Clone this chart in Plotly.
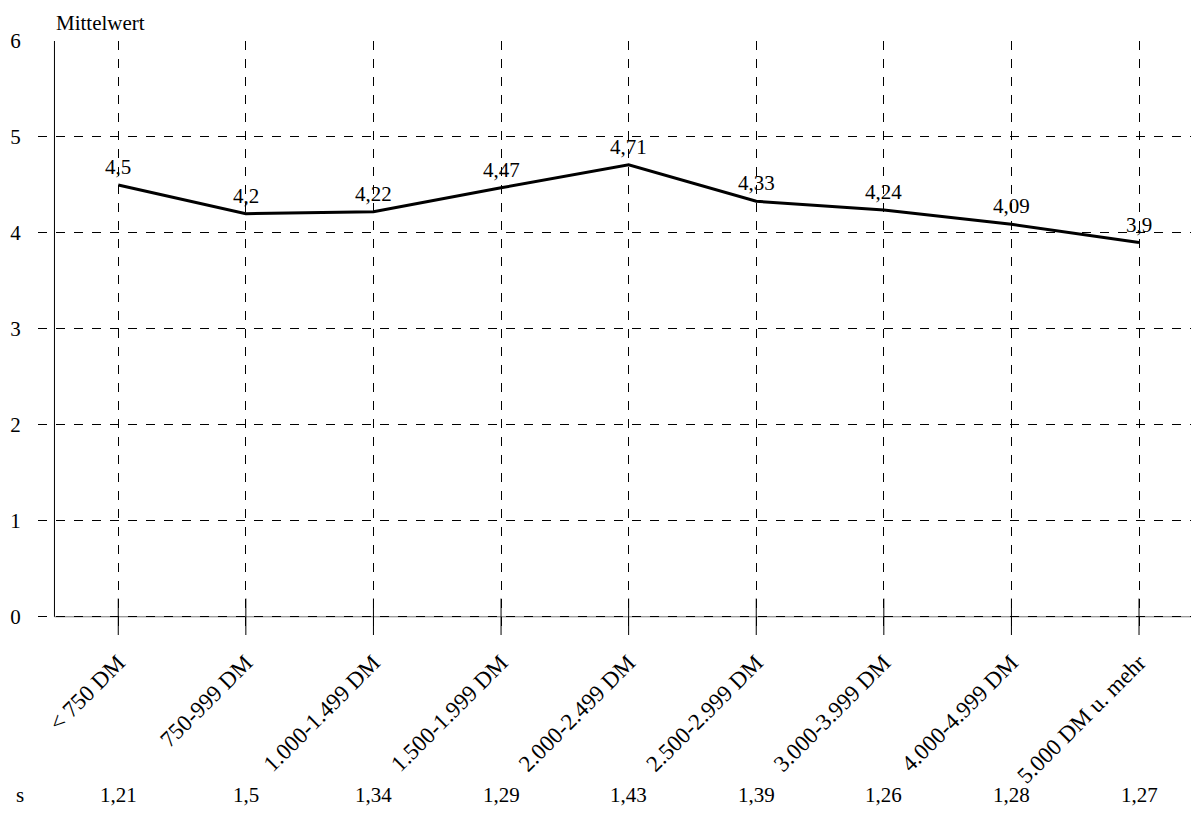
import plotly.graph_objects as go

categories = ["< 750 DM", "750-999 DM", "1.000-1.499 DM", "1.500-1.999 DM", "2.000-2.499 DM",
              "2.500-2.999 DM", "3.000-3.999 DM", "4.000-4.999 DM", "5.000 DM u. mehr"]
mittelwert = [4.5, 4.2, 4.22, 4.47, 4.71, 4.33, 4.24, 4.09, 3.9]
mittelwert_labels = ["4,5", "4,2", "4,22", "4,47", "4,71", "4,33", "4,24", "4,09", "3,9"]
s_labels = ["1,21", "1,5", "1,34", "1,29", "1,43", "1,39", "1,26", "1,28", "1,27"]
y_ticks = [0, 1, 2, 3, 4, 5, 6]

FONT = "Liberation Serif, Times New Roman, serif"
FS = 21

xs = list(range(len(categories)))

fig = go.Figure()
fig.add_trace(go.Scatter(
    x=xs, y=mittelwert, mode="lines",
    line=dict(color="black", width=3),
    showlegend=False, cliponaxis=False,
))

shapes = []
# solid y axis line
shapes.append(dict(type="line", xref="x", yref="y", x0=-0.5, x1=-0.5, y0=0, y1=6,
                   line=dict(color="black", width=1), layer="above"))
# solid zero line
shapes.append(dict(type="line", xref="x", yref="y", x0=-0.5, x1=8.47, y0=0, y1=0,
                   line=dict(color="#777", width=1), layer="below"))
# tick crosses at category positions
for i in xs:
    shapes.append(dict(type="line", xref="x", yref="y", x0=i, x1=i, y0=-0.19, y1=0.19,
                       line=dict(color="black", width=1), layer="above"))

annotations = [
    dict(text="Mittelwert", xref="paper", yref="paper", x=0.0146, y=1.0, yshift=18,
         xanchor="left", yanchor="middle", showarrow=False, borderpad=0,
         font=dict(family=FONT, size=21, color="black")),
    dict(text="s", xref="paper", yref="paper", x=-0.0155, y=-0.269,
         xanchor="center", yanchor="middle", showarrow=False,
         font=dict(family=FONT, size=FS, color="black")),
]
for i, lab in enumerate(s_labels):
    annotations.append(dict(text=lab, xref="x", yref="paper", x=i, y=-0.269,
                            xanchor="center", yanchor="middle", showarrow=False,
                            font=dict(family=FONT, size=FS, color="black")))
for i, (v, lab) in enumerate(zip(mittelwert, mittelwert_labels)):
    annotations.append(dict(text=lab, xref="x", yref="y", x=i, y=v,
                            xanchor="center", yanchor="bottom", yshift=4, showarrow=False,
                            font=dict(family=FONT, size=FS, color="black")))

fig.update_layout(
    width=1199, height=818,
    margin=dict(l=30, r=8, t=33, b=191),
    paper_bgcolor="white", plot_bgcolor="white",
    font=dict(family=FONT, size=FS, color="black"),
    shapes=shapes, annotations=annotations,
    xaxis=dict(
        range=[-0.629, 8.47], tickmode="array", tickvals=xs, ticktext=categories,
        tickangle=-45, showgrid=True, gridcolor="black", griddash="dash", gridwidth=1,
        zeroline=False, showline=False, ticks="outside", ticklen=4,
        tickcolor="rgba(0,0,0,0)", tickfont=dict(family=FONT, size=23),
        automargin=False,
    ),
    yaxis=dict(
        range=[-0.19, 6], tickmode="array", tickvals=y_ticks,
        ticktext=[str(v) for v in y_ticks],
        showgrid=True, gridcolor="black", griddash="dash", gridwidth=1,
        zeroline=False, showline=False, ticks="outside", ticklen=12,
        tickcolor="rgba(0,0,0,0)", tickfont=dict(family=FONT, size=FS),
        automargin=False,
    ),
)

fig.write_html("out.html")
